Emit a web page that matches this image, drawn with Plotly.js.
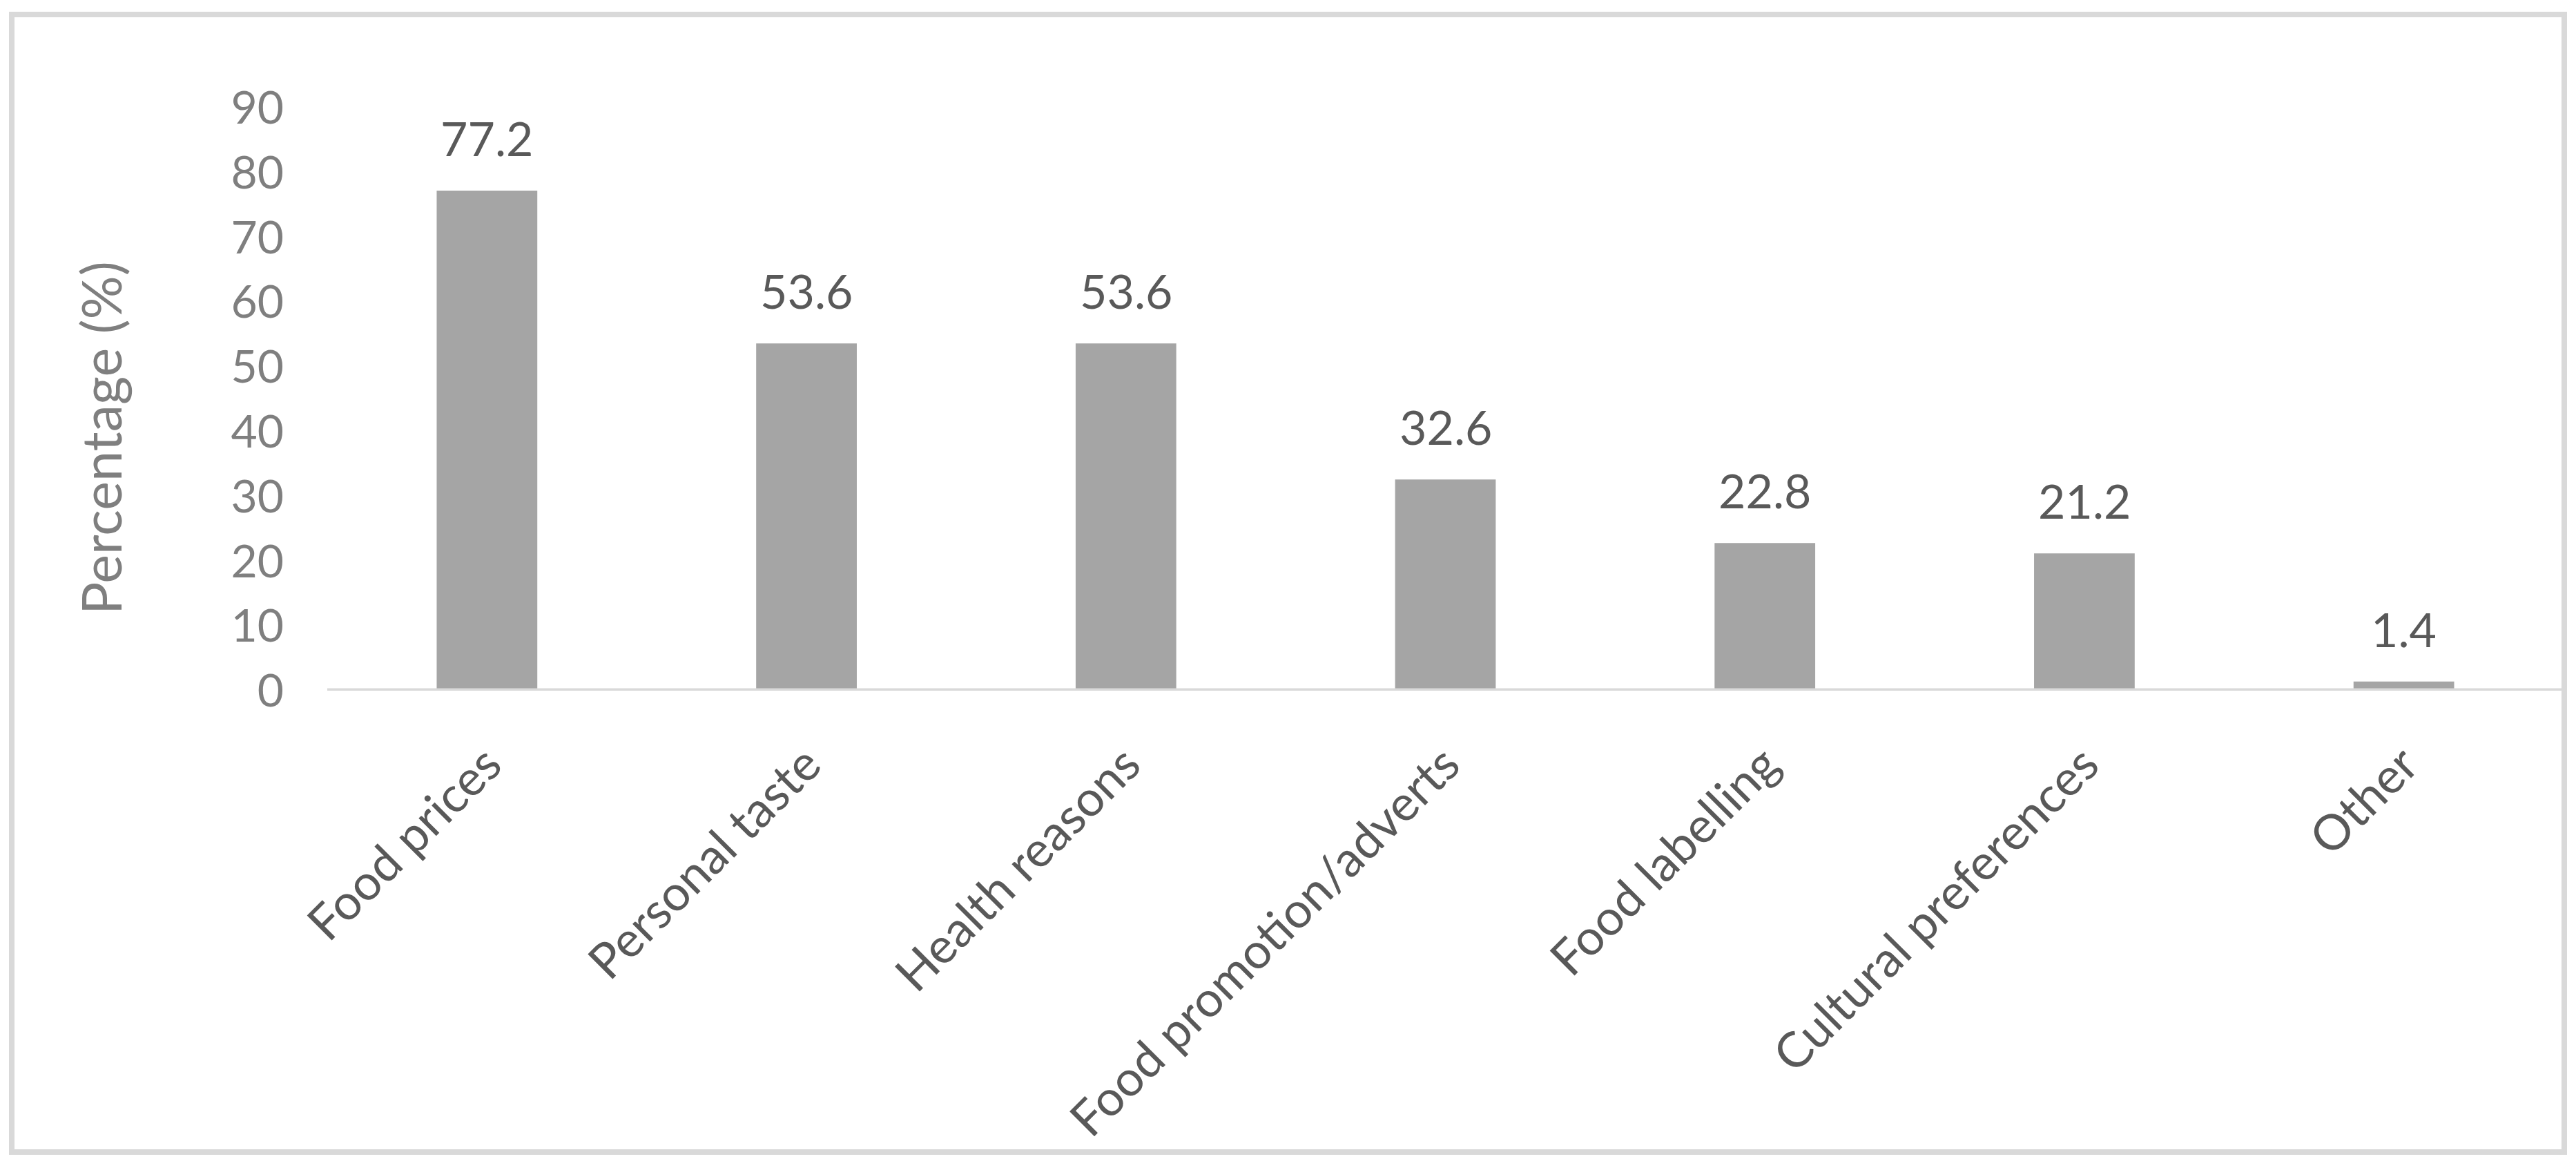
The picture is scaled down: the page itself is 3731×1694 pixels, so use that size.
<!DOCTYPE html>
<html>
<head>
<meta charset="utf-8">
<script src="https://cdn.plot.ly/plotly-3.0.1.min.js"></script>
<style>
  html, body { margin: 0; padding: 0; background: #ffffff; }
  #chart { width: 3731px; height: 1694px; }
</style>
</head>
<body>
<div id="chart"></div>
<script>
// ---- data ----
const categories = ["Food prices", "Personal taste", "Health reasons", "Food promotion/adverts", "Food labelling", "Cultural preferences", "Other"];
const percentages = [77.2, 53.6, 53.6, 32.6, 22.8, 21.2, 1.4];
const yTickValues = [0, 10, 20, 30, 40, 50, 60, 70, 80, 90];
const yAxisTitle = "Percentage (%)";

// ---- layout geometry (pixels) ----
const W = 3731, H = 1694;
const plotL = 474, plotR = 3713, plotT = 156, plotB = 1000;
const pw = plotR - plotL, ph = plotB - plotT;
const px2x = p => (p - plotL) / pw;
const px2y = p => (plotB - p) / ph;

const FONT = "Lato, 'Open Sans', sans-serif";

const valueLabels = categories.map((c, i) => ({
  x: c, y: percentages[i], xref: 'x', yref: 'y',
  text: String(percentages[i]),
  showarrow: false, yanchor: 'bottom', xanchor: 'center', yshift: 34,
  font: { family: FONT, size: 68, color: '#595959' }
}));

const titleAnn = {
  xref: 'paper', yref: 'paper', x: px2x(145), y: px2y(634),
  text: yAxisTitle, textangle: -90, showarrow: false,
  xanchor: 'center', yanchor: 'middle',
  font: { family: FONT, size: 79, color: '#7f7f7f' }
};

const trace = {
  type: 'bar', x: categories, y: percentages,
  marker: { color: '#a5a5a5' },
  hoverinfo: 'none'
};

const layout = {
  width: W, height: H,
  margin: { l: plotL, r: W - plotR, t: plotT, b: H - plotB, pad: 0 },
  paper_bgcolor: '#ffffff', plot_bgcolor: '#ffffff',
  showlegend: false,
  bargap: 0.685,
  xaxis: {
    type: 'category', tickangle: -45, showgrid: false, zeroline: false, showline: false,
    ticks: '', ticklabelstandoff: 50,
    tickfont: { family: FONT, size: 71, color: '#595959' }
  },
  yaxis: {
    range: [0, 90], tickvals: yTickValues, showgrid: false, zeroline: false, showline: false,
    ticks: '', ticklabelstandoff: 62,
    tickfont: { family: FONT, size: 66, color: '#7f7f7f' }
  },
  annotations: valueLabels.concat([titleAnn]),
  shapes: [
    { type: 'line', xref: 'paper', yref: 'y', x0: 0, x1: 1, y0: 0, y1: 0,
      line: { color: '#d9d9d9', width: 7 }, layer: 'above' },
    { type: 'rect', xref: 'paper', yref: 'paper',
      x0: px2x(17), x1: px2x(3714), y0: px2y(1668), y1: px2y(21),
      line: { color: '#d9d9d9', width: 8 }, layer: 'below' }
  ]
};

Plotly.newPlot('chart', [trace], layout, { displayModeBar: false, staticPlot: true });
</script>
</body>
</html>
